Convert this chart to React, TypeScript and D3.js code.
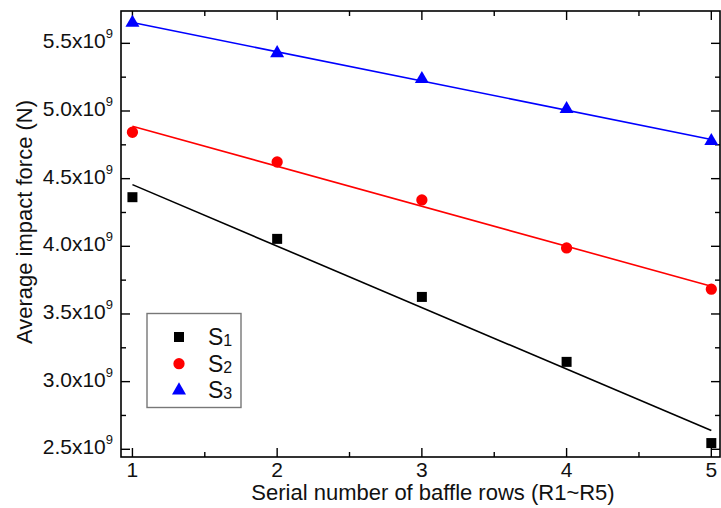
import React, { useRef, useEffect } from "react";
import * as d3 from "d3";

// baffle row index (R1..R5)
const rows = [1, 2, 3, 4, 5];
// average impact force, in units of 1e9 N
const s1 = [4.363, 4.055, 3.626, 3.146, 2.546];
const s2 = [4.843, 4.623, 4.343, 3.988, 3.683];
const s3 = [5.652, 5.428, 5.236, 5.015, 4.778];
const seriesNames = ["1", "2", "3"];
const seriesColors = ["#000000", "#ff0000", "#0000ff"];

const yTicks = [2.5, 3.0, 3.5, 4.0, 4.5, 5.0, 5.5];
const yMinorTicks = [2.75, 3.25, 3.75, 4.25, 4.75, 5.25];
const xTicks = [1, 2, 3, 4, 5];
const xMinorTicks = [1.5, 2.5, 3.5, 4.5];

const FONT = "'Liberation Sans', Arial, Helvetica, sans-serif";

function linearFit(xs: number[], ys: number[]) {
  const mx = d3.mean(xs) as number;
  const my = d3.mean(ys) as number;
  let num = 0;
  let den = 0;
  xs.forEach((x, i) => {
    num += (x - mx) * (ys[i] - my);
    den += (x - mx) * (x - mx);
  });
  const slope = num / den;
  return (x: number) => my + slope * (x - mx);
}

export default function App() {
  const svgRef = useRef<SVGSVGElement>(null);

  useEffect(() => {
    const svg = d3.select(svgRef.current);
    svg.selectAll("*").remove();

    const left = 121;
    const right = 720;
    const top = 11;
    const bottom = 457;

    const x = d3.scaleLinear().domain([0.921, 5.06]).range([left, right]);
    const y = d3.scaleLinear().domain([2.443, 5.739]).range([bottom, top]);

    const g = svg.append("g");

    // frame
    g.append("rect")
      .attr("x", left)
      .attr("y", top)
      .attr("width", right - left)
      .attr("height", bottom - top)
      .attr("fill", "none")
      .attr("stroke", "#000")
      .attr("stroke-width", 1.6);

    const major = 9;
    const minor = 5;
    const tickLine = (x1: number, y1: number, x2: number, y2: number) =>
      g.append("line")
        .attr("x1", x1).attr("y1", y1).attr("x2", x2).attr("y2", y2)
        .attr("stroke", "#000").attr("stroke-width", 1.4);

    // ticks pointing inward on all four sides
    xTicks.forEach((t) => {
      tickLine(x(t), bottom, x(t), bottom - major);
      tickLine(x(t), top, x(t), top + major);
    });
    xMinorTicks.forEach((t) => {
      tickLine(x(t), bottom, x(t), bottom - minor);
      tickLine(x(t), top, x(t), top + minor);
    });
    yTicks.forEach((t) => {
      tickLine(left, y(t), left + major, y(t));
      tickLine(right, y(t), right - major, y(t));
    });
    yMinorTicks.forEach((t) => {
      tickLine(left, y(t), left + minor, y(t));
      tickLine(right, y(t), right - minor, y(t));
    });

    // x tick labels
    g.selectAll(".xlab")
      .data(xTicks)
      .enter()
      .append("text")
      .attr("x", (d) => x(d))
      .attr("y", 477)
      .attr("text-anchor", "middle")
      .style("font-family", FONT)
      .style("font-size", "21px")
      .attr("fill", "#111")
      .text((d) => d);

    // y tick labels, e.g. 5.5x10^9
    const ylab = g.selectAll(".ylab")
      .data(yTicks)
      .enter()
      .append("text")
      .attr("x", 113)
      .attr("y", (d) => y(d) + 5)
      .attr("text-anchor", "end")
      .style("font-family", FONT)
      .style("font-size", "21px")
      .attr("fill", "#111");
    ylab.append("tspan").text((d) => `${d.toFixed(1)}x10`);
    ylab.append("tspan")
      .attr("dy", -10)
      .style("font-size", "13px")
      .text("9");

    // axis titles
    g.append("text")
      .attr("x", 433)
      .attr("y", 500)
      .attr("text-anchor", "middle")
      .style("font-family", FONT)
      .style("font-size", "22px")
      .attr("fill", "#111")
      .text("Serial number of baffle rows (R1~R5)");

    g.append("text")
      .attr("transform", "translate(32,222) rotate(-90)")
      .attr("text-anchor", "middle")
      .style("font-family", FONT)
      .style("font-size", "22px")
      .attr("fill", "#111")
      .text("Average impact force (N)");

    const series = [s1, s2, s3];
    const symbols = [d3.symbolSquare, d3.symbolCircle, d3.symbolTriangle];
    const sizes = [100, 100, 85];

    // fitted lines
    series.forEach((vals, i) => {
      const fit = linearFit(rows, vals);
      const x0 = rows[0];
      const x1 = rows[rows.length - 1];
      g.append("line")
        .attr("x1", x(x0)).attr("y1", y(fit(x0)))
        .attr("x2", x(x1)).attr("y2", y(fit(x1)))
        .attr("stroke", seriesColors[i])
        .attr("stroke-width", 1.6);
    });

    // data markers
    series.forEach((vals, i) => {
      g.selectAll(`.m${i}`)
        .data(vals)
        .enter()
        .append("path")
        .attr("transform", (d, j) => `translate(${x(rows[j])},${y(d)})`)
        .attr("d", d3.symbol().type(symbols[i]).size(sizes[i])())
        .attr("fill", seriesColors[i]);
    });

    // legend
    const legend = g.append("g");
    legend.append("rect")
      .attr("x", 147)
      .attr("y", 313.5)
      .attr("width", 94)
      .attr("height", 94)
      .attr("fill", "#fff")
      .attr("stroke", "#777")
      .attr("stroke-width", 1.4);

    seriesNames.forEach((name, i) => {
      const cy = 337 + i * 26.7;
      legend.append("path")
        .attr("transform", `translate(179,${cy})`)
        .attr("d", d3.symbol().type(symbols[i]).size(sizes[i])())
        .attr("fill", seriesColors[i]);
      const t = legend.append("text")
        .attr("x", 208)
        .attr("y", cy + 8)
        .style("font-family", FONT)
        .style("font-size", "23px")
        .attr("fill", "#111");
      t.append("tspan").text("S");
      t.append("tspan")
        .attr("dy", 1)
        .style("font-size", "16px")
        .text(name);
    });
  }, []);

  return (
    <svg
      ref={svgRef}
      width={721}
      height={508}
      style={{ position: "absolute", left: 0, top: 0, background: "#fff" }}
    ></svg>
  );
}
